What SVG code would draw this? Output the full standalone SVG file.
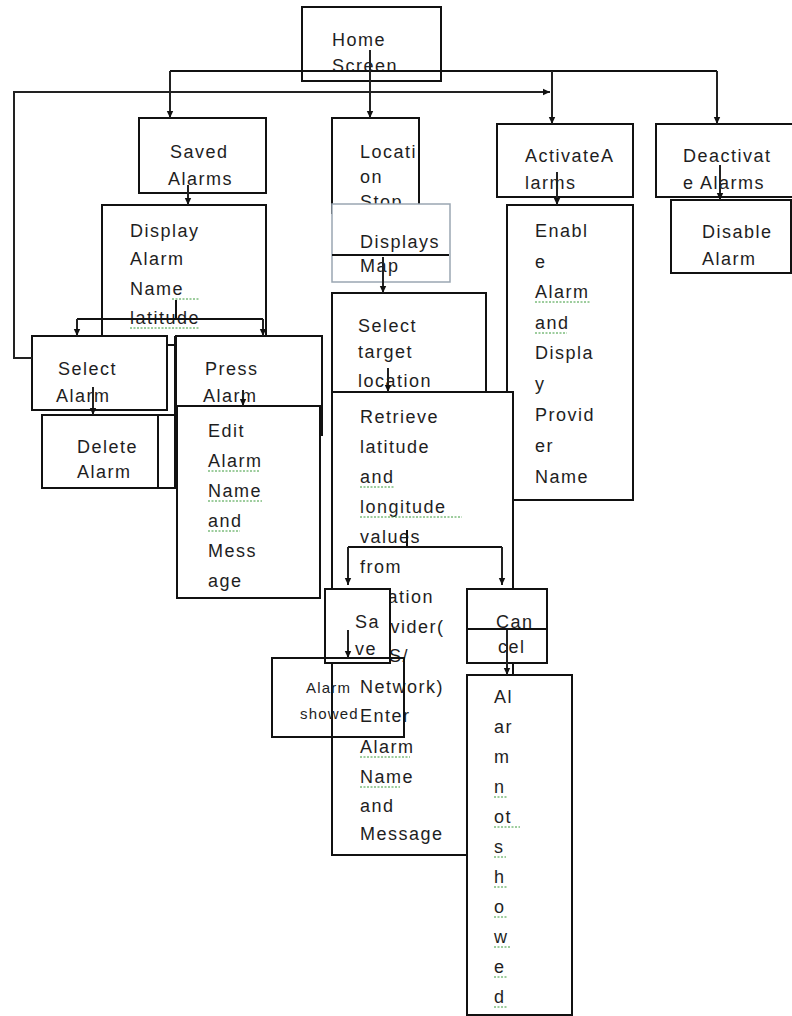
<svg xmlns="http://www.w3.org/2000/svg" width="792" height="1016" viewBox="0 0 792 1016">
<style>
.b{fill:#fff;stroke:#111;stroke-width:2}
.o{fill:none;stroke:#111;stroke-width:2}
.g{fill:#fff;stroke:#9aa6b2;stroke-width:1.5}
text{font-family:"Liberation Sans",Arial,sans-serif;font-size:18px;letter-spacing:1.5px;fill:#1e1e1e}
.s{font-size:15px;letter-spacing:1.2px}
.c{fill:none;stroke:#111;stroke-width:2}
.a{fill:none;stroke:#222;stroke-width:2;marker-end:url(#ar)}
.sq{fill:none;stroke:#3a9a3a;stroke-width:1;stroke-dasharray:2 1.5}
</style>
<defs>
<marker id="ar" markerUnits="userSpaceOnUse" markerWidth="8" markerHeight="8" refX="7" refY="4" orient="auto">
<path d="M0,0.8 L7,4 L0,7.2 Z" fill="#111"/>
</marker>
</defs>
<rect width="792" height="1016" fill="#fff"/>

<g id="home"><rect class="b" x="302" y="7" width="139" height="74"/><text x="332" y="46">Home</text><text x="332" y="72">Screen</text></g>
<g id="saved"><rect class="b" x="139" y="118" width="127" height="75"/><text x="170" y="158">Saved</text><text x="168" y="185">Alarms</text></g>
<g id="location"><rect class="b" x="332" y="118" width="87" height="95"/><text x="360" y="158">Locati</text><text x="360" y="183">on</text><text x="360" y="208">Stop</text></g>
<g id="displays"><rect class="g" x="332" y="204" width="118" height="78"/><line x1="332" y1="255" x2="449" y2="255" stroke="#111" stroke-width="2"/><text x="360" y="248">Displays</text><text x="360" y="272">Map</text></g>
<g id="activate"><rect class="b" x="497" y="124" width="136" height="73"/><text x="525" y="162">ActivateA</text><text x="525" y="189">larms</text></g>
<g id="deactivate"><rect class="b" x="656" y="124" width="150" height="73"/><text x="683" y="162">Deactivat</text><text x="683" y="189">e Alarms</text></g>
<g id="disable"><rect class="b" x="671" y="200" width="120" height="73"/><text x="702" y="238">Disable</text><text x="702" y="265">Alarm</text></g>
<g id="enable"><rect class="b" x="507" y="205" width="126" height="295"/><text x="535" y="237">Enabl</text><text x="535" y="268">e</text><text x="535" y="298">Alarm</text><text x="535" y="329">and</text><text x="535" y="359">Displa</text><text x="535" y="390">y</text><text x="535" y="421">Provid</text><text x="535" y="452">er</text><text x="535" y="483">Name</text>
<path class="sq" d="M535,302 H590 M535,333 H567"/></g>
<g id="display"><rect class="b" x="102" y="205" width="164" height="140"/><text x="130" y="237">Display</text><text x="130" y="265">Alarm</text><text x="130" y="295">Name</text><text x="130" y="324" fill="#3d5a3d">latitude</text>
<path class="sq" d="M172,299 H200 M130,328 H200"/></g>
<g id="select-alarm"><rect class="b" x="32" y="336" width="135" height="74"/><text x="58" y="375">Select</text><text x="56" y="402">Alarm</text></g>
<g id="delete-alarm"><rect class="b" x="42" y="415" width="133" height="73"/><line x1="158" y1="415" x2="158" y2="488" stroke="#111" stroke-width="2"/><text x="77" y="453">Delete</text><text x="77" y="478">Alarm</text></g>
<g id="press-alarm"><rect class="b" x="176" y="336" width="146" height="99"/><text x="205" y="375">Press</text><text x="203" y="402">Alarm</text></g>
<g id="edit"><rect class="b" x="177" y="406" width="143" height="192"/><text x="208" y="437">Edit</text><text x="208" y="467">Alarm</text><text x="208" y="497">Name</text><text x="208" y="527">and</text><text x="208" y="557">Mess</text><text x="208" y="587">age</text>
<path class="sq" d="M208,471 H260 M208,501 H262 M208,531 H240"/></g>
<g id="select-target"><rect class="b" x="332" y="293" width="154" height="100"/><text x="358" y="332">Select</text><text x="358" y="358">target</text><text x="358" y="387">location</text></g>
<g id="retrieve"><rect class="b" x="332" y="392" width="181" height="463"/><text x="360" y="423">Retrieve</text><text x="360" y="453">latitude</text><text x="360" y="483">and</text><text x="360" y="513">longitude</text><text x="360" y="543">values</text><text x="360" y="573">from</text><text x="360" y="603">location</text><text x="360" y="633">provider(</text><text x="360" y="662">GPS/</text><text x="360" y="693">Network)</text><text x="360" y="722">Enter</text><text x="360" y="753">Alarm</text><text x="360" y="783">Name</text><text x="360" y="812">and</text><text x="360" y="840">Message</text>
<path class="sq" d="M360,487 H395 M360,517 H462 M360,757 H410 M360,787 H400"/></g>
<g id="save"><rect class="b" x="325" y="589" width="65" height="74"/><text x="355" y="628">Sa</text><text x="355" y="655">ve</text></g>
<g id="cancel"><rect class="b" x="467" y="589" width="80" height="74"/><line x1="467" y1="629" x2="547" y2="629" stroke="#111" stroke-width="2"/><text x="496" y="628">Can</text><text x="498" y="653">cel</text></g>
<g id="alarm-showed"><rect class="o" x="272" y="658" width="132" height="79"/><text class="s" x="306" y="693">Alarm</text><text class="s" x="300" y="719">showed</text></g>
<g id="alarm-not-showed"><rect class="b" x="467" y="675" width="105" height="340"/><text x="494" y="703">Al</text><text x="494" y="733">ar</text><text x="494" y="763">m</text><text x="494" y="793">n</text><text x="494" y="823">ot</text><text x="494" y="853">s</text><text x="494" y="883">h</text><text x="494" y="913">o</text><text x="494" y="943">w</text><text x="494" y="973">e</text><text x="494" y="1003">d</text>
<path class="sq" d="M494,797 H508 M494,827 H520 M494,857 H506 M494,887 H508 M494,917 H508 M494,947 H510 M494,977 H508 M494,1007 H508"/></g>

<g id="connectors">
<path class="c" d="M170,71 H717"/>
<path class="a" d="M170,71 V118"/>
<path class="a" d="M552,71 V124"/>
<path class="a" d="M717,71 V124"/>
<path class="a" d="M370,50 V118"/>
<path class="a" d="M32,358 H14 V92 H550"/>
<path class="a" d="M188,185 V205"/>
<path class="c" d="M176,300 V319 M77,319 H263"/>
<path class="a" d="M77,319 V336"/>
<path class="a" d="M263,319 V336"/>
<path class="a" d="M93,387 V415"/>
<path class="a" d="M243,390 V406"/>
<path class="a" d="M557,172 V205"/>
<path class="a" d="M720,165 V200"/>
<path class="a" d="M383,257 V293"/>
<path class="a" d="M388,368 V392"/>
<path class="c" d="M407,530 V547 M348,547 H502"/>
<path class="a" d="M348,547 V585"/>
<path class="a" d="M502,547 V585"/>
<path class="a" d="M348,630 V658"/>
<path class="a" d="M507,630 V675"/>
<path class="c" d="M175,336 V488"/>
</g>
</svg>
